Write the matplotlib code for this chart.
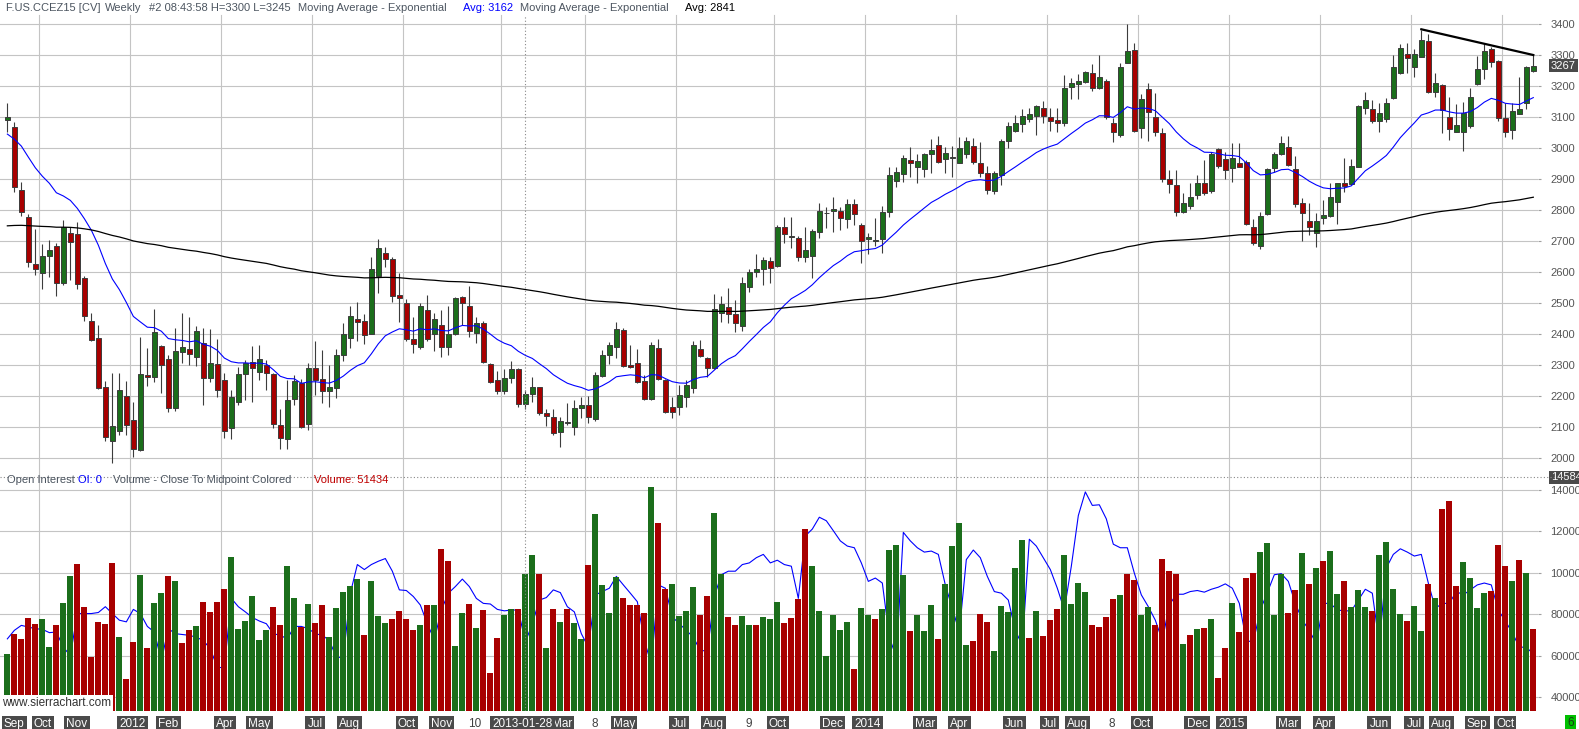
import numpy as np
import matplotlib.pyplot as plt
from matplotlib.transforms import blended_transform_factory

# F.US.CCEZ15 [CV] weekly bars, Sep 2011 .. Oct 2015
opens = [3091, 3068, 2865, 2777, 2626, 2599, 2653, 2684, 2567, 2726,
         2723, 2581, 2442, 2387, 2229, 2057, 2089, 2200, 2124, 2027,
         2269, 2263, 2361, 2320, 2161, 2344, 2352, 2328, 2373, 2258,
         2303, 2253, 2097, 2183, 2271, 2310, 2280, 2302, 2272, 2106,
         2061, 2190, 2244, 2110, 2290, 2255, 2218, 2228, 2332, 2387,
         2449, 2443, 2400, 2589, 2661, 2642, 2526, 2500, 2384, 2360,
         2478, 2400, 2430, 2360, 2400, 2519, 2491, 2403, 2435, 2303,
         2253, 2218, 2258, 2287, 2175, 2206, 2229, 2145, 2132, 2086,
         2113, 2100, 2161, 2172, 2126, 2266, 2332, 2360, 2414, 2301,
         2306, 2249, 2190, 2355, 2253, 2164, 2167, 2197, 2226, 2352,
         2323, 2290, 2470, 2487, 2466, 2427, 2554, 2602, 2610, 2638,
         2621, 2747, 2713, 2710, 2651, 2653, 2731, 2790, 2799, 2799,
         2771, 2820, 2752, 2709, 2702, 2709, 2796, 2896, 2916, 2962,
         2941, 2934, 2981, 3010, 2965, 2969, 2954, 2981, 3008, 2952,
         2921, 2863, 2914, 3025, 3056, 3078, 3095, 3104, 3129, 3100,
         3091, 3083, 3199, 3206, 3215, 3242, 3194, 3217, 3081, 3043,
         3276, 3317, 3065, 3190, 3100, 3048, 2900, 2882, 2794, 2815,
         2849, 2887, 2863, 2997, 2965, 2935, 2952, 2955, 2747, 2685,
         2788, 2935, 2981, 3005, 2934, 2823, 2766, 2726, 2774, 2782,
         2826, 2889, 2884, 2939, 3129, 3126, 3089, 3094, 3163, 3244,
         3303, 3263, 3296, 3346, 3181, 3204, 3100, 3054, 3054, 3072,
         3206, 3255, 3320, 3282, 3097, 3059, 3110, 3145, 3250]
highs = [3145, 3084, 2891, 2787, 2739, 2690, 2704, 2694, 2769, 2747,
         2761, 2588, 2468, 2430, 2249, 2274, 2276, 2250, 2183, 2392,
         2355, 2482, 2364, 2333, 2419, 2468, 2455, 2427, 2419, 2416,
         2384, 2274, 2220, 2296, 2317, 2362, 2366, 2317, 2276, 2158,
         2253, 2269, 2255, 2306, 2380, 2349, 2301, 2352, 2438, 2491,
         2504, 2466, 2648, 2706, 2681, 2650, 2597, 2513, 2455, 2502,
         2527, 2468, 2478, 2491, 2521, 2524, 2556, 2455, 2444, 2309,
         2283, 2287, 2314, 2290, 2220, 2263, 2231, 2158, 2158, 2134,
         2177, 2188, 2197, 2201, 2280, 2349, 2376, 2441, 2419, 2366,
         2352, 2269, 2376, 2384, 2255, 2199, 2237, 2253, 2378, 2382,
         2328, 2529, 2524, 2548, 2511, 2586, 2610, 2659, 2648, 2648,
         2753, 2777, 2780, 2717, 2745, 2739, 2823, 2812, 2844, 2810,
         2835, 2835, 2760, 2726, 2774, 2814, 2939, 2941, 2978, 3005,
         2982, 2986, 3029, 3040, 3005, 3008, 3035, 3038, 3032, 3019,
         2943, 2928, 3029, 3084, 3106, 3128, 3129, 3139, 3153, 3129,
         3129, 3237, 3226, 3240, 3251, 3272, 3301, 3224, 3097, 3276,
         3401, 3341, 3175, 3212, 3180, 3065, 2930, 2930, 2855, 2889,
         2914, 2962, 2989, 3000, 2989, 3016, 3016, 2962, 2771, 2794,
         2935, 2989, 3040, 3040, 2975, 2839, 2823, 2790, 2833, 2889,
         2889, 2968, 2964, 3140, 3181, 3156, 3145, 3161, 3301, 3337,
         3339, 3319, 3382, 3368, 3242, 3208, 3165, 3143, 3148, 3194,
         3298, 3341, 3328, 3285, 3147, 3147, 3231, 3266, 3300]
lows = [3054, 2860, 2783, 2618, 2591, 2545, 2584, 2525, 2559, 2575,
        2547, 2444, 2380, 2223, 2057, 1986, 2075, 2075, 2005, 2025,
        2233, 2247, 2212, 2148, 2154, 2309, 2301, 2299, 2172, 2245,
        2199, 2064, 2061, 2172, 2188, 2181, 2253, 2220, 2097, 2029,
        2029, 2172, 2097, 2091, 2204, 2180, 2164, 2194, 2315, 2355,
        2380, 2369, 2400, 2534, 2618, 2505, 2441, 2380, 2341, 2352,
        2380, 2347, 2326, 2333, 2398, 2430, 2390, 2373, 2309, 2244,
        2207, 2207, 2242, 2167, 2158, 2183, 2140, 2104, 2075, 2038,
        2108, 2075, 2129, 2115, 2121, 2263, 2304, 2323, 2296, 2290,
        2244, 2188, 2188, 2253, 2147, 2129, 2140, 2167, 2212, 2326,
        2263, 2287, 2441, 2435, 2409, 2412, 2538, 2584, 2559, 2564,
        2618, 2694, 2677, 2638, 2634, 2581, 2710, 2742, 2731, 2737,
        2742, 2753, 2631, 2659, 2685, 2663, 2780, 2874, 2892, 2906,
        2889, 2906, 2921, 2954, 2921, 2909, 2954, 2968, 2949, 2909,
        2852, 2852, 2882, 3000, 3054, 3054, 3086, 3043, 3083, 3057,
        3054, 3072, 3158, 3159, 3212, 3186, 3192, 3095, 3021, 3038,
        3274, 3054, 3034, 3025, 3041, 2892, 2857, 2783, 2792, 2804,
        2837, 2849, 2855, 2935, 2900, 2892, 2939, 2754, 2688, 2674,
        2785, 2923, 2978, 2943, 2810, 2702, 2720, 2683, 2756, 2780,
        2756, 2860, 2882, 2939, 3111, 3083, 3054, 3086, 3159, 3240,
        3242, 3229, 3296, 3177, 3167, 3048, 3027, 3054, 2992, 3067,
        3204, 3224, 3261, 3089, 3038, 3029, 3110, 3126, 3245]
closes = [3100, 2874, 2794, 2634, 2610, 2652, 2671, 2567, 2747, 2697,
          2561, 2458, 2382, 2228, 2068, 2104, 2220, 2109, 2029, 2272,
          2261, 2408, 2300, 2161, 2346, 2359, 2335, 2411, 2258, 2306,
          2220, 2088, 2199, 2271, 2309, 2290, 2319, 2274, 2110, 2064,
          2188, 2249, 2102, 2290, 2253, 2217, 2229, 2332, 2400, 2459,
          2441, 2398, 2611, 2677, 2642, 2523, 2516, 2384, 2368, 2491,
          2384, 2448, 2360, 2400, 2516, 2500, 2412, 2435, 2312, 2247,
          2218, 2258, 2287, 2174, 2207, 2229, 2145, 2138, 2083, 2119,
          2118, 2161, 2172, 2132, 2269, 2333, 2366, 2416, 2299, 2296,
          2247, 2190, 2366, 2255, 2151, 2151, 2203, 2237, 2366, 2330,
          2290, 2481, 2498, 2465, 2435, 2564, 2602, 2610, 2640, 2613,
          2747, 2723, 2717, 2651, 2672, 2734, 2799, 2792, 2803, 2774,
          2820, 2787, 2701, 2713, 2704, 2794, 2914, 2923, 2968, 2952,
          2959, 2982, 2995, 2957, 2984, 2972, 3000, 3024, 2955, 2919,
          2866, 2919, 3023, 3072, 3081, 3104, 3111, 3137, 3105, 3089,
          3083, 3194, 3210, 3217, 3247, 3194, 3229, 3100, 3054, 3261,
          3314, 3057, 3159, 3118, 3052, 2900, 2884, 2796, 2823, 2844,
          2889, 2857, 2982, 2943, 2930, 2968, 2941, 2756, 2694, 2783,
          2932, 2982, 3016, 2946, 2820, 2790, 2747, 2767, 2785, 2842,
          2887, 2880, 2944, 3137, 3156, 3088, 3115, 3145, 3261, 3323,
          3290, 3303, 3349, 3181, 3210, 3124, 3061, 3075, 3113, 3167,
          3255, 3314, 3277, 3097, 3052, 3120, 3127, 3261, 3267]

volume = [60650, 70570, 67970, 78210, 75450, 77720, 64060, 74800, 85530, 98220,
          104070, 83580, 59190, 76260, 75290, 104550, 68940, 48940, 66500, 98700,
          63580, 85530, 90410, 98220, 95770, 66020, 72360, 74310, 86020, 81140,
          86020, 92360, 107480, 72850, 76750, 88950, 67480, 72360, 83580, 74800,
          103090, 87970, 73820, 85040, 75780, 84550, 68940, 83090, 90900, 93330,
          96750, 69920, 95770, 79190, 75780, 77720, 81630, 77720, 72360, 74800,
          84550, 84550, 111380, 105530, 64550, 80650, 85040, 73330, 82120, 51870,
          68450, 79680, 82600, 82600, 99190, 108460, 99190, 63580, 82600, 76260,
          82600, 75780, 67970, 103580, 128450, 93820, 80650, 97720, 87970, 84550,
          84550, 80650, 141140, 124070, 92360, 94310, 79190, 81630, 92850, 79680,
          88950, 128940, 99190, 78700, 74800, 79190, 74800, 74800, 78700, 77720,
          86020, 75780, 78210, 87480, 121140, 103090, 81630, 59680, 79680, 72360,
          76260, 53820, 83090, 79680, 77720, 82600, 110890, 113330, 98700, 71870,
          79680, 71870, 84550, 67970, 94310, 112850, 124070, 65040, 67000, 80160,
          76260, 62110, 84060, 81140, 102110, 115770, 68450, 81630, 69430, 77240,
          82600, 108460, 85040, 94800, 90900, 74800, 73820, 78700, 87480, 89430,
          99190, 96260, 79680, 83580, 74800, 106500, 100650, 99190, 65530, 69920,
          72850, 73330, 77720, 49430, 63580, 85530, 71380, 97240, 99680, 109920,
          114310, 79680, 99190, 80650, 91870, 109430, 94310, 102110, 105530, 110400,
          89920, 95770, 83580, 91870, 83580, 81630, 108460, 114800, 92360, 80160,
          76750, 84060, 71870, 94310, 87970, 130890, 134310, 93330, 105040, 97240,
          83090, 90410, 91380, 113330, 103090, 95770, 106010, 99680, 72850]
# close vs. bar midpoint: g = above, r = below
vol_side = ("grrrrggrgg" "rrrrrrgrrg" "rggrgrrgrr" "rrggggggrr" "ggrgrrgggg"
            "grgggrrrrg" "rgrrggrgrr" "rggrggrgrg" "rggrggggrr" "rrgrrggggr"
            "rggrrggrgg" "grrrrggggg" "grggrggggr" "gggrggggrr" "rgggggrgrr"
            "rggggrrrrg" "rrggrrrrgr" "grgrrgrrrg" "gggrrgrgrg" "grgggrgggg"
            "rggrgrrrgg" "ggrrrgrgr")
open_interest = [68100, 72200, 74600, 73800, 73000, 72700, 71100, 71400, 64100, 60000,
                 80300, 80300, 80300, 80800, 83600, 80300, 77100, 76300, 82300, 80300,
                 74100, 71400, 57600, 73000, 70600, 70200, 69800, 68900, 67300, 63300,
                 54300, 54300, 87600, 83600, 81100, 78400, 76700, 75400, 70600, 69800,
                 68100, 74100, 74100, 73000, 70600, 69800, 67300, 59200, 59200, 90100,
                 103900, 101500, 103900, 105500, 106800, 100700, 91700, 91400, 88500, 84400,
                 75400, 67600, 82000, 90100, 93300, 96900, 93300, 87600, 85200, 84900,
                 82300, 81600, 82000, 82000, 66500, 75400, 86800, 88000, 91700, 90400,
                 83600, 81100, 70600, 64100, 89300, 90900, 92500, 98200, 94100, 90100,
                 86000, 67300, 55900, 94100, 92500, 78700, 75400, 72200, 68900, 62400,
                 62400, 88500, 99000, 100700, 100700, 103900, 104700, 107200, 108800, 104700,
                 106000, 103900, 103100, 87600, 117700, 121000, 126700, 125000, 120200, 115300,
                 112800, 112000, 104700, 95800, 97400, 95000, 68900, 59200, 119400, 115300,
                 112000, 109900, 110400, 108800, 94100, 82800, 71400, 106300, 110900, 107200,
                 98200, 90900, 90100, 86800, 72200, 64900, 116100, 112800, 107200, 101500,
                 92500, 82000, 103100, 127500, 138900, 132400, 132700, 125900, 113700, 112000,
                 112000, 99800, 89300, 83600, 77100, 67300, 84400, 89600, 89600, 90900,
                 91400, 90600, 92000, 93000, 94600, 92500, 85200, 67300, 66500, 82000,
                 90400, 99000, 99500, 95800, 85200, 77100, 72200, 65700, 85200, 85200,
                 82000, 81600, 81600, 86800, 92000, 90100, 65700, 102300, 108800, 111500,
                 109900, 108000, 108800, 95000, 82800, 85200, 85200, 90900, 89300, 91700,
                 94100, 95000, 94100, 82000, 76700, 71100, 64100, 64100, 60800]

# EMA values on the first visible bar (history before the chart)
ema_fast_start = 3046
ema_slow_start = 2750

trend_bars = [202, 218]
trend_prices = [3384, 3301]

last_price = 3267
vol_axis_top = 145840

date_ticks = [0.98, 5.08, 9.95, 17.9, 23.0, 31.1, 36.0, 43.95, 48.9, 57.05,
              62.0, 66.8, 79.2, 83.9, 88.1, 95.95, 100.9, 105.9, 110.1, 117.9,
              122.9, 131.1, 136.0, 143.9, 148.9, 152.9, 157.8, 162.1, 169.96, 174.9,
              183.0, 188.1, 195.95, 200.95, 204.9, 210.0, 214.0]
date_labels = ["Sep", "Oct", "Nov", "2012", "Feb", "Apr", "May", "Jul", "Aug", "Oct",
               "Nov", "10", "Mar", "8", "May", "Jul", "Aug", "9", "Oct", "Dec",
               "2014", "Mar", "Apr", "Jun", "Jul", "Aug", "8", "Oct", "Dec", "2015",
               "Mar", "Apr", "Jun", "Jul", "Aug", "Sep", "Oct"]
grid_bars = [4, 17, 30, 43, 56, 70, 82, 95, 109, 122, 135, 148, 161, 174, 187, 200, 213]
cursor_bar = 74

W, H = 1579, 729
GREEN = '#1b6e1b'
RED = '#a80000'
EDGE = '#3c3c3c'
GRID = '#c4c4c4'
TXT = '#4c5560'
BOX = '#4a4a4a'


def fx(px):
    return px / W


def fy(py):
    return 1 - py / H


def ema(values, span, start):
    alpha = 2.0 / (span + 1)
    out = [start]
    for v in values[1:]:
        out.append(out[-1] + alpha * (v - out[-1]))
    return np.array(out)


def style_axis(ax, ymin, ymax, ticks):
    ax.set_xlim(-1.05, 218.67)
    ax.set_ylim(ymin, ymax)
    for s in ax.spines.values():
        s.set_visible(False)
    ax.set_yticks(ticks)
    ax.set_yticklabels([str(t) for t in ticks])
    ax.yaxis.tick_right()
    ax.tick_params(axis='y', length=2, color='#a0a0a0', labelcolor='#555555',
                   labelsize=8, pad=7)
    ax.tick_params(axis='x', bottom=False, labelbottom=False)
    ax.grid(axis='y', color=GRID, lw=0.8, zorder=0)
    ax.set_axisbelow(True)
    for t in ax.get_yticklabels():
        t.set_horizontalalignment('left')


plt.rcParams['font.family'] = ['Liberation Sans', 'DejaVu Sans']
fig = plt.figure(figsize=(W / 100, H / 100), dpi=100)
fig.patch.set_facecolor('white')

ax = fig.add_axes([0, fy(469), fx(1538), (469 - 15) / H])
axv = fig.add_axes([0, fy(711), fx(1538), (711 - 477.5) / H])

style_axis(ax, 1965.6, 3430.1, list(range(2000, 3401, 100)))
style_axis(axv, 33350, vol_axis_top, list(range(40000, 140001, 20000)))

for g in grid_bars:
    ax.axvline(g + 0.57, color=GRID, lw=0.8, zorder=0, ymin=-0.019, clip_on=False)
    axv.axvline(g + 0.57, color=GRID, lw=0.8, zorder=0)

# candles
x = np.arange(len(closes))
o = np.array(opens)
c = np.array(closes)
ax.vlines(x, lows, highs, color=EDGE, lw=0.8, zorder=2)
body_colors = [GREEN if cc >= oo else RED for oo, cc in zip(o, c)]
ax.bar(x, np.maximum(np.abs(c - o), 3), bottom=np.minimum(o, c), width=0.68,
       color=body_colors, edgecolor=EDGE, linewidth=0.7, zorder=3)

ax.plot(x, ema(closes, 20, ema_fast_start), color='#0000ff', lw=0.8, zorder=4)
ax.plot(x, ema(closes, 200, ema_slow_start), color='#000000', lw=0.9, zorder=4)
ax.plot(trend_bars, trend_prices, color='#000000', lw=1.6, zorder=5)

# volume + open interest
vol_colors = [GREEN if s == 'g' else RED for s in vol_side]
axv.plot(x, open_interest, color='#0000ff', lw=0.8, zorder=1)
axv.bar(x, volume, width=0.82, color=vol_colors, zorder=3)

# cursor lines
ax.axvline(cursor_bar, color='#888888', lw=0.8, ls=(0, (1, 2)), ymin=-0.019,
           clip_on=False, zorder=6)
axv.axvline(cursor_bar, color='#888888', lw=0.8, ls=(0, (1, 2)), zorder=6)
axv.axhline(vol_axis_top, color='#888888', lw=0.8, ls=(0, (1, 2)), xmax=1.03,
            clip_on=False, zorder=6)

# headers
hdr = [(6, "F.US.CCEZ15 [CV]", TXT), (105, "Weekly", TXT),
       (149, "#2 08:43:58 H=3300 L=3245", TXT),
       (298, "Moving Average - Exponential", TXT), (463, "Avg: 3162", '#0000ff'),
       (520, "Moving Average - Exponential", TXT), (685, "Avg: 2841", '#000000')]
for px, s, col in hdr:
    fig.text(fx(px), fy(8), s, color=col, fontsize=8, va='center', ha='left')
vhdr = [(7, "Open Interest", TXT), (78, "OI: 0", '#0000ff'),
        (113, "Volume - Close To Midpoint Colored", TXT), (314, "Volume: 51434", '#c00000')]
for px, s, col in vhdr:
    fig.text(fx(px), fy(480), s, color=col, fontsize=8, va='center', ha='left',
             zorder=10)

# right side value boxes
price_tr = blended_transform_factory(fig.transFigure, ax.transData)
ax.text(fx(1551), last_price, str(last_price), transform=price_tr, color='white',
        fontsize=8, va='center', ha='left', clip_on=False,
        bbox=dict(facecolor=BOX, edgecolor='none', pad=1.2))
vol_tr = blended_transform_factory(fig.transFigure, axv.transData)
axv.text(fx(1551), vol_axis_top, str(vol_axis_top), transform=vol_tr, color='white',
         fontsize=8, va='center', ha='left', clip_on=False,
         bbox=dict(facecolor=BOX, edgecolor='none', pad=1.2))
fig.text(fx(1567), fy(723), "6", color='#1a3a1a', fontsize=8.5, va='center',
         ha='left', bbox=dict(facecolor='#00c000', edgecolor='none', pad=1.5))

# date labels
trans = blended_transform_factory(axv.transData, fig.transFigure)
for pos, lab in zip(date_ticks, date_labels):
    if lab.isdigit() and len(lab) <= 2:
        axv.text(pos, fy(724), lab, transform=trans, color='#404040', fontsize=8.5,
                 ha='center', va='center', clip_on=False)
    else:
        axv.text(pos, fy(724), lab, transform=trans, color='white', fontsize=8.5,
                 ha='center', va='center', clip_on=False,
                 bbox=dict(facecolor=BOX, edgecolor='none', pad=1.5))
axv.text(cursor_bar - 0.4, fy(724), "2013-01-28", transform=trans, color='white',
         fontsize=8.5, ha='center', va='center', clip_on=False, zorder=12,
         bbox=dict(facecolor=BOX, edgecolor='none', pad=1.5))

fig.text(fx(2), fy(703.5), "www.sierrachart.com", color='#333333', fontsize=8.5,
         va='center', ha='left', zorder=10,
         bbox=dict(facecolor='white', edgecolor='none', pad=1.5))

fig.savefig('out.png', dpi=100)
